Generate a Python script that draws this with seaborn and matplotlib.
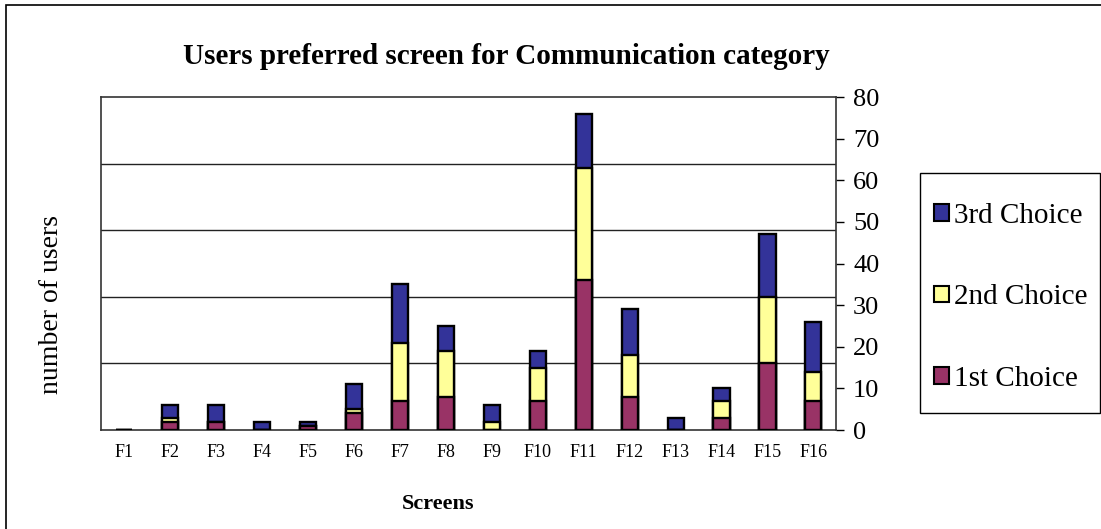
import numpy as np
import pandas as pd
import matplotlib
matplotlib.use("Agg")
import matplotlib.pyplot as plt
from matplotlib.patches import Patch, Rectangle
import seaborn as sns

# values
screens = ["F%d" % i for i in range(1, 17)]
first_choice = [0, 2, 2, 0, 1, 4, 7, 8, 0, 7, 36, 8, 0, 3, 16, 7]
second_choice = [0, 1, 0, 0, 0, 1, 14, 11, 2, 8, 27, 10, 0, 4, 16, 7]
third_choice = [0, 3, 4, 2, 1, 6, 14, 6, 4, 4, 13, 11, 3, 3, 15, 12]
series_names = ["1st Choice", "2nd Choice", "3rd Choice"]
series_colors = ["#993366", "#FFFF99", "#333399"]

df = pd.DataFrame({"screen": screens, "first": first_choice,
                   "second": second_choice, "third": third_choice})
df["upto2"] = df["first"] + df["second"]
df["total"] = df["upto2"] + df["third"]

sns.set_style("white")
plt.rcParams["font.family"] = ["Liberation Serif", "DejaVu Serif"]
plt.rcParams["text.color"] = "black"
plt.rcParams["xtick.color"] = "black"
plt.rcParams["ytick.color"] = "black"

fig = plt.figure(figsize=(11.01, 5.29), dpi=100)
ax = fig.add_axes([0.0917, 0.187, 0.668, 0.6295])

# stacked bars drawn as overlapping cumulative totals
bar_kw = dict(width=0.35, edgecolor="black", linewidth=1.7, ax=ax, zorder=3)
sns.barplot(data=df, x="screen", y="total", color=series_colors[2], saturation=1, **bar_kw)
sns.barplot(data=df, x="screen", y="upto2", color=series_colors[1], saturation=1, **bar_kw)
sns.barplot(data=df, x="screen", y="first", color=series_colors[0], saturation=1, **bar_kw)

ax.set_xlim(-0.5, 15.5)
ax.set_ylim(0, 80)
ax.set_xlabel("")
ax.set_ylabel("")

# right-hand value axis
ax.yaxis.tick_right()
ax.set_yticks(np.arange(0, 81, 10))
ax.tick_params(axis="y", which="major", direction="out", length=6, width=1,
               labelsize=19, pad=6, right=True, left=False, color="black")
# gridlines sit at every 16 units in the original
ax.set_yticks(np.arange(0, 81, 16), minor=True)
ax.tick_params(axis="y", which="minor", length=0)
ax.grid(which="minor", axis="y", color="#222222", linewidth=1, zorder=0)
ax.grid(which="major", axis="y", visible=False)

# category ticks between bars
ax.set_xticks(np.arange(-0.5, 16, 1), minor=True)
ax.tick_params(axis="x", which="minor", direction="out", length=6, width=1, color="#444444")
ax.tick_params(axis="x", which="major", length=0, labelsize=13, pad=10)

for side in ["left", "right", "bottom", "top"]:
    ax.spines[side].set_visible(True)
    ax.spines[side].set_color("#333333")
    ax.spines[side].set_linewidth(1.2)

fig.text(0.46, 0.894, "Users preferred screen for Communication category",
         ha="center", va="center", fontsize=21, fontweight="bold")
fig.text(0.047, 0.425, "number of users", rotation=90, ha="center", va="center", fontsize=20)
fig.text(0.398, 0.047, "Screens", ha="center", va="center", fontsize=16, fontweight="bold")

handles = [Patch(facecolor=c, edgecolor="black", linewidth=1.5) for c in series_colors]
leg = fig.legend(handles[::-1], series_names[::-1], loc="upper left",
                 bbox_to_anchor=(934 / 1101, 1 - 203 / 529), fontsize=21, frameon=False,
                 handlelength=0.5, handleheight=0.5, handletextpad=0.2,
                 labelspacing=1.9, borderpad=0, borderaxespad=0)

# legend box and outer chart border
fig.patches.append(Rectangle((920 / 1101, 1 - 413 / 529), 180 / 1101, 240 / 529,
                             transform=fig.transFigure, fill=False,
                             edgecolor="black", linewidth=1))
fig.patches.append(Rectangle((0.005, -0.05), 1.2, 1.04, transform=fig.transFigure,
                             fill=False, edgecolor="black", linewidth=1.2))

fig.savefig("out.png", dpi=100)
